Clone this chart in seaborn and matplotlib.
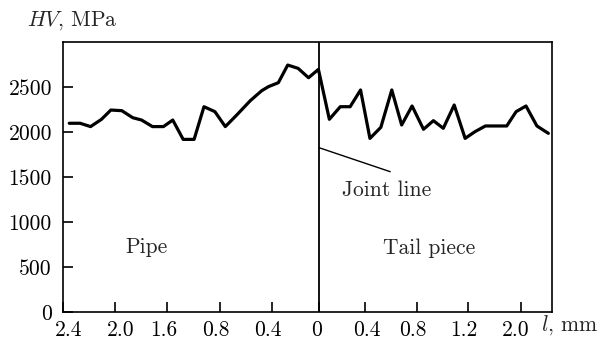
import numpy as np
import pandas as pd
import seaborn as sns
import matplotlib
matplotlib.use("Agg")
import matplotlib.pyplot as plt

# positions along the specimen (chart units, one unit ~ one tick interval)
pos = [0.12, 0.33, 0.53, 0.74, 0.92, 1.13, 1.34, 1.51, 1.72, 1.93, 2.11, 2.31, 2.52,
       2.71, 2.92, 3.12, 3.34, 3.60, 3.82, 3.95, 4.14, 4.32, 4.52, 4.72, 4.91,
       5.12, 5.33, 5.52, 5.72, 5.90, 6.11, 6.32, 6.51, 6.71, 6.93, 7.12, 7.31,
       7.52, 7.73, 7.92, 8.12, 8.33, 8.53, 8.71, 8.90, 9.11, 9.33]
hv = [2097, 2097, 2060, 2141, 2244, 2237, 2159, 2133, 2060, 2060, 2133, 1918, 1918,
      2281, 2226, 2060, 2189, 2348, 2459, 2504, 2548, 2744, 2707, 2603, 2696,
      2141, 2281, 2281, 2467, 1929, 2052, 2467, 2078, 2289, 2030, 2126, 2041,
      2300, 1929, 2004, 2067, 2067, 2067, 2226, 2289, 2067, 1985]

# tick marks and their labels sit slightly apart in the original
tick_pos = [0, 1, 2, 3.02, 4.02, 4.92, 5.81, 6.81, 7.79, 8.81]
label_pos = [0.11, 1.10, 1.94, 2.94, 3.94, 4.88, 5.85, 6.73, 7.71, 8.71]
tick_labels = ["2.4", "2.0", "1.6", "0.8", "0.4", "0", "0.4", "0.8", "1.2", "2.0"]
y_ticks = [0, 500, 1000, 1500, 2000, 2500]
joint_pos = 4.92

sns.set_theme(style="ticks")
plt.rcParams["font.family"] = ["cmr10", "DejaVu Serif"]
plt.rcParams["mathtext.fontset"] = "cm"
plt.rcParams["axes.formatter.use_mathtext"] = True
fs = 15.5

fig = plt.figure(figsize=(6.02, 3.41), dpi=100)
ax = fig.add_axes([63 / 602, 1 - 312 / 341, 489 / 602, 270 / 341])

df = pd.DataFrame({"pos": pos, "hv": hv})
sns.lineplot(data=df, x="pos", y="hv", ax=ax, color="black", linewidth=2.3,
             estimator=None, sort=False)

ax.axvline(joint_pos, color="black", linewidth=1.3)
ax.annotate("", xy=(joint_pos, 1826), xytext=(6.29, 1559),
            arrowprops=dict(arrowstyle="-", color="black", lw=1.0, shrinkA=0, shrinkB=0))
ax.text(6.23, 1356, "Joint line", ha="center", va="center", fontsize=fs)
ax.text(1.61, 722, "Pipe", ha="center", va="center", fontsize=fs)
ax.text(7.04, 711, "Tail piece", ha="center", va="center", fontsize=fs)

ax.set_xlim(0, 9.40)
ax.set_ylim(0, 3000)
ax.set_xticks(tick_pos)
ax.set_xticklabels([])
ax.set_xticks(label_pos, minor=True)
ax.set_xticklabels(tick_labels, minor=True)
ax.set_yticks(y_ticks)
ax.set_yticklabels([str(v) for v in y_ticks])
ax.tick_params(direction="in", length=7, width=1.2, labelsize=fs, colors="black")
ax.tick_params(axis="x", which="minor", length=0, pad=6, labelsize=fs, colors="black")
ax.tick_params(axis="y", pad=8)
ax.set_xlabel("")
ax.set_ylabel("")
for s in ax.spines.values():
    s.set_linewidth(1.2)
    s.set_color("black")
    s.set_visible(True)

fig.text(27 / 602, 1 - 21 / 341, r"$HV$, MPa", ha="left", va="center", fontsize=fs)
fig.text(541 / 602, 1 - 325 / 341, r"$l$, mm", ha="left", va="center", fontsize=fs)

fig.savefig("out.png", dpi=100)
